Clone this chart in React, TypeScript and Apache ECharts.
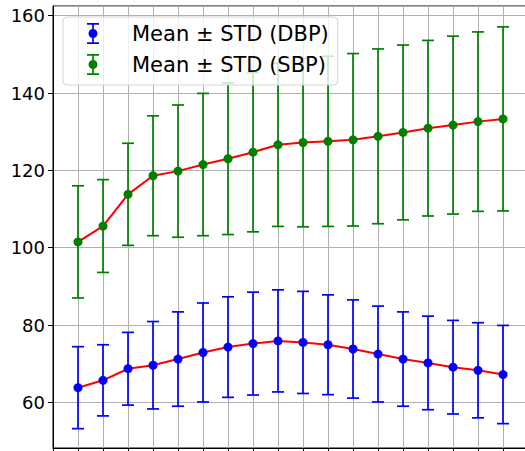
import React, { useEffect, useRef } from "react";
import * as echarts from "echarts";

const xValues = [1, 2, 3, 4, 5, 6, 7, 8, 9, 10, 11, 12, 13, 14, 15, 16, 17, 18];
const dbpMean = [63.8, 65.7, 68.7, 69.6, 71.2, 72.9, 74.3, 75.2, 75.9, 75.5, 74.9, 73.8, 72.5, 71.2, 70.2, 69.1, 68.3, 67.2];
const dbpStd = [10.6, 9.2, 9.4, 11.3, 12.2, 12.8, 13.0, 13.3, 13.2, 13.2, 12.9, 12.7, 12.4, 12.2, 12.1, 12.1, 12.3, 12.7];
const sbpMean = [101.5, 105.6, 113.8, 118.6, 119.8, 121.5, 123.0, 124.7, 126.6, 127.2, 127.5, 127.9, 128.8, 129.8, 130.9, 131.7, 132.6, 133.3];
const sbpStd = [14.5, 12.0, 13.2, 15.5, 17.1, 18.4, 19.6, 20.6, 21.1, 21.8, 22.0, 22.3, 22.6, 22.6, 22.7, 23.0, 23.2, 23.8];
const seriesNames = ["Mean ± STD (DBP)", "Mean ± STD (SBP)"];

const ICON =
  "path://M0,0 H12 V1.7 H0 Z M5.15,0 H6.85 V21 H5.15 Z M0,19.3 H12 V21 H0 Z " +
  "M6,6 C8.485,6 10.5,8.015 10.5,10.5 C10.5,12.985 8.485,15 6,15 C3.515,15 1.5,12.985 1.5,10.5 C1.5,8.015 3.515,6 6,6 Z";

function errorData(mean: number[], std: number[]) {
  return xValues.map((x, i) => [x, mean[i] - std[i], mean[i] + std[i], mean[i]]);
}

function makeRender(color: string) {
  return (params: any, api: any) => {
    const x = api.value(0);
    const lo = api.coord([x, api.value(1)]);
    const hi = api.coord([x, api.value(2)]);
    const mid = api.coord([x, api.value(3)]);
    const cap = 6;
    const ls = { stroke: color, lineWidth: 1.7 };
    return {
      type: "group",
      children: [
        { type: "line", shape: { x1: lo[0], y1: lo[1], x2: hi[0], y2: hi[1] }, style: ls },
        { type: "line", shape: { x1: hi[0] - cap, y1: hi[1], x2: hi[0] + cap, y2: hi[1] }, style: ls },
        { type: "line", shape: { x1: lo[0] - cap, y1: lo[1], x2: lo[0] + cap, y2: lo[1] }, style: ls },
        { type: "circle", shape: { cx: mid[0], cy: mid[1], r: 4.5 }, style: { fill: color } },
      ],
    };
  };
}

export default function App() {
  const ref = useRef<HTMLDivElement>(null);
  useEffect(() => {
    document.body.style.margin = "0";
    const chart = echarts.init(ref.current!, null, { renderer: "svg" });
    const font = "DejaVu Sans";
    chart.setOption({
      animation: false,
      backgroundColor: "#ffffff",
      grid: {
        left: 53,
        top: 6,
        width: 475,
        height: 442,
        outerBoundsMode: "none",
        containLabel: false,
        show: true,
        borderColor: "#000",
        borderWidth: 1,
        backgroundColor: "transparent",
      },
      xAxis: {
        type: "value",
        min: 0,
        max: 19,
        interval: 1,
        axisLine: { show: true, onZero: false, lineStyle: { color: "#000", width: 1 } },
        axisTick: { show: true, inside: false, length: 5, lineStyle: { color: "#000" } },
        axisLabel: { show: false },
        splitLine: { show: true, lineStyle: { color: "#b0b0b0", width: 1 } },
      },
      yAxis: {
        type: "value",
        min: 48.2,
        max: 162.5,
        splitNumber: 5,
        axisLine: { show: true, lineStyle: { color: "#000", width: 1 } },
        axisTick: { show: true, inside: false, length: 5, lineStyle: { color: "#000" } },
        axisLabel: {
          show: true,
          showMinLabel: false,
          showMaxLabel: false,
          margin: 8,
          fontSize: 18,
          fontFamily: font,
          color: "#000",
        },
        splitLine: { show: true, lineStyle: { color: "#b0b0b0", width: 1 } },
      },
      legend: {
        orient: "vertical",
        left: 63,
        top: 17,
        itemWidth: 12,
        itemHeight: 21,
        itemGap: 10,
        padding: [6, 9, 10, 24],
        selectedMode: false,
        backgroundColor: "rgba(255,255,255,0.8)",
        borderColor: "#d4d4d4",
        borderWidth: 1,
        borderRadius: 4,
        textStyle: { fontSize: 21, fontFamily: font, color: "#000", padding: [0, 0, 0, 28] },
        data: [
          { name: seriesNames[0], icon: ICON, itemStyle: { color: "#0000ff" } },
          { name: seriesNames[1], icon: ICON, itemStyle: { color: "#008000" } },
        ],
      },
      series: [
        {
          type: "line",
          name: "dbp-line",
          data: xValues.map((x, i) => [x, dbpMean[i]]),
          showSymbol: false,
          lineStyle: { color: "#ff0000", width: 2 },
          itemStyle: { color: "#ff0000" },
          z: 1,
        },
        {
          type: "line",
          name: "sbp-line",
          data: xValues.map((x, i) => [x, sbpMean[i]]),
          showSymbol: false,
          lineStyle: { color: "#ff0000", width: 2 },
          itemStyle: { color: "#ff0000" },
          z: 1,
        },
        {
          type: "custom",
          name: seriesNames[0],
          renderItem: makeRender("#0000ff"),
          data: errorData(dbpMean, dbpStd),
          encode: { x: 0, y: [1, 2, 3] },
          itemStyle: { color: "#0000ff" },
          z: 2,
        },
        {
          type: "custom",
          name: seriesNames[1],
          renderItem: makeRender("#008000"),
          data: errorData(sbpMean, sbpStd),
          encode: { x: 0, y: [1, 2, 3] },
          itemStyle: { color: "#008000" },
          z: 2,
        },
      ],
    });
    return () => chart.dispose();
  }, []);
  return <div ref={ref} style={{ width: 525, height: 451 }} />;
}
